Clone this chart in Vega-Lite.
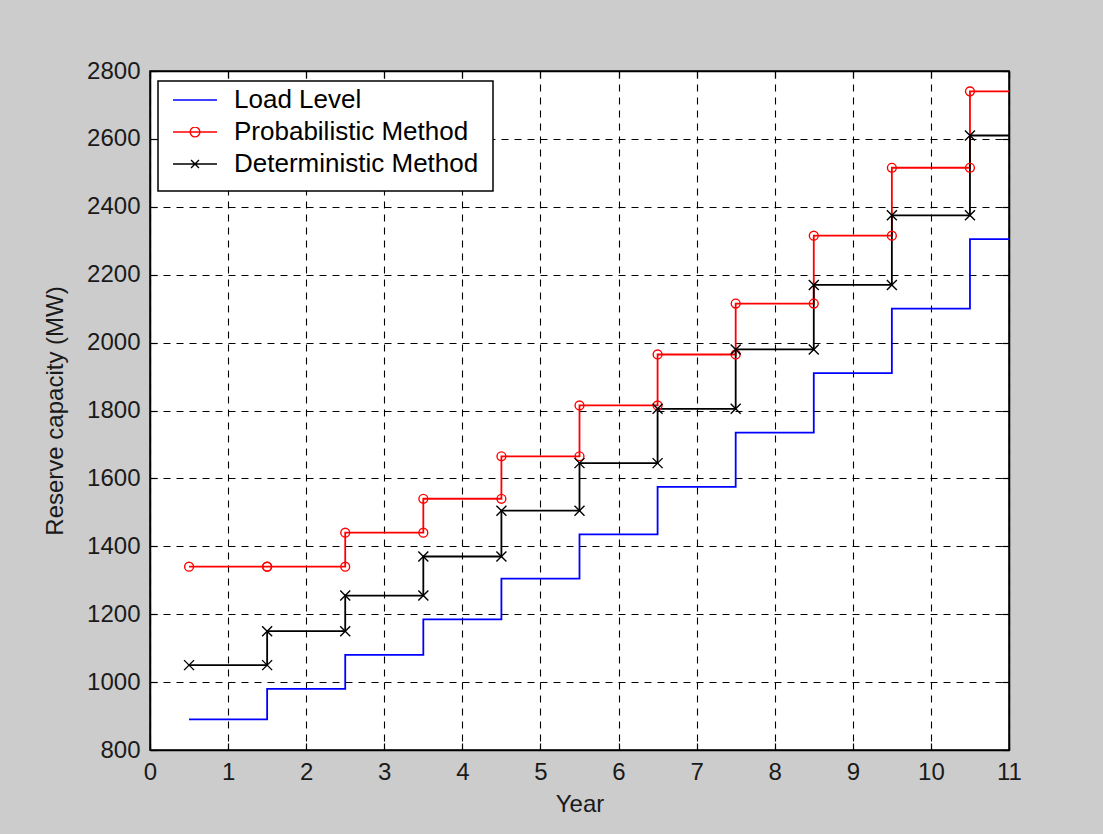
{
  "$schema": "https://vega.github.io/schema/vega-lite/v6.json",
  "width": 859,
  "height": 679,
  "autosize": {"type": "none"},
  "padding": {"left": 150, "top": 71, "right": 94, "bottom": 84},
  "background": "#cccccc",
  "data": {
    "values": [
      {"series": "Load Level", "year": 0.5, "value": 890},
      {"series": "Load Level", "year": 1.5, "value": 980},
      {"series": "Load Level", "year": 2.5, "value": 1080},
      {"series": "Load Level", "year": 3.5, "value": 1185},
      {"series": "Load Level", "year": 4.5, "value": 1305},
      {"series": "Load Level", "year": 5.5, "value": 1435},
      {"series": "Load Level", "year": 6.5, "value": 1575},
      {"series": "Load Level", "year": 7.5, "value": 1735},
      {"series": "Load Level", "year": 8.5, "value": 1910},
      {"series": "Load Level", "year": 9.5, "value": 2100},
      {"series": "Load Level", "year": 10.5, "value": 2305},
      {"series": "Load Level", "year": 11, "value": 2305},
      {"series": "Probabilistic Method", "year": 0.5, "value": 1340},
      {"series": "Probabilistic Method", "year": 1.5, "value": 1340},
      {"series": "Probabilistic Method", "year": 2.5, "value": 1440},
      {"series": "Probabilistic Method", "year": 3.5, "value": 1540},
      {"series": "Probabilistic Method", "year": 4.5, "value": 1665},
      {"series": "Probabilistic Method", "year": 5.5, "value": 1815},
      {"series": "Probabilistic Method", "year": 6.5, "value": 1965},
      {"series": "Probabilistic Method", "year": 7.5, "value": 2115},
      {"series": "Probabilistic Method", "year": 8.5, "value": 2315},
      {"series": "Probabilistic Method", "year": 9.5, "value": 2515},
      {"series": "Probabilistic Method", "year": 10.5, "value": 2740},
      {"series": "Probabilistic Method", "year": 11, "value": 2740},
      {"series": "Deterministic Method", "year": 0.5, "value": 1050},
      {"series": "Deterministic Method", "year": 1.5, "value": 1150},
      {"series": "Deterministic Method", "year": 2.5, "value": 1255},
      {"series": "Deterministic Method", "year": 3.5, "value": 1370},
      {"series": "Deterministic Method", "year": 4.5, "value": 1505},
      {"series": "Deterministic Method", "year": 5.5, "value": 1645},
      {"series": "Deterministic Method", "year": 6.5, "value": 1805},
      {"series": "Deterministic Method", "year": 7.5, "value": 1980},
      {"series": "Deterministic Method", "year": 8.5, "value": 2170},
      {"series": "Deterministic Method", "year": 9.5, "value": 2375},
      {"series": "Deterministic Method", "year": 10.5, "value": 2610},
      {"series": "Deterministic Method", "year": 11, "value": 2610}
    ]
  },
  "config": {
    "font": "Liberation Sans",
    "view": {"fill": "#ffffff", "stroke": "#000000", "strokeWidth": 1.5},
    "axis": {
      "domainColor": "#000000",
      "domainWidth": 1.5,
      "tickColor": "#000000",
      "tickWidth": 1.2,
      "tickSize": -7,
      "labelFont": "Liberation Sans",
      "labelFontSize": 24,
      "labelColor": "#1a1a1a",
      "labelFlush": false,
      "labelOverlap": false,
      "labelPadding": 17,
      "titleFont": "Liberation Sans",
      "titleFontSize": 24,
      "titleFontWeight": "normal",
      "titleColor": "#1a1a1a",
      "gridColor": "#000000",
      "gridDash": [7, 6],
      "gridWidth": 1.1,
      "gridOpacity": 1
    }
  },
  "resolve": {"axis": {"x": "independent", "y": "independent"}},
  "layer": [
    {
      "mark": {"type": "line", "interpolate": "step-after", "strokeWidth": 1.8},
      "encoding": {
        "x": {
          "field": "year", "type": "quantitative",
          "scale": {"domain": [0, 11], "nice": false, "zero": false},
          "axis": {"orient": "bottom", "title": "Year", "format": "d", "values": [0, 1, 2, 3, 4, 5, 6, 7, 8, 9, 10, 11], "grid": true, "titlePadding": 8}
        },
        "y": {
          "field": "value", "type": "quantitative",
          "scale": {"domain": [800, 2800], "nice": false, "zero": false},
          "axis": {"orient": "left", "title": "Reserve capacity (MW)", "format": "d", "values": [800, 1000, 1200, 1400, 1600, 1800, 2000, 2200, 2400, 2600, 2800], "grid": true, "titlePadding": 19}
        },
        "color": {
          "field": "series", "type": "nominal",
          "scale": {"domain": ["Load Level", "Probabilistic Method", "Deterministic Method"], "range": ["#0000ff", "#ff0000", "#000000"]},
          "legend": {
            "title": null,
            "orient": "none",
            "legendX": 8,
            "legendY": 10,
            "padding": 14,
            "fillColor": "#ffffff",
            "strokeColor": "#000000",
            "clipHeight": 10,
            "rowPadding": 6,
            "symbolSize": 1936,
            "symbolOffset": 0,
            "symbolStrokeWidth": 1.4,
            "symbolFillColor": "transparent",
            "labelOffset": 16,
            "labelFont": "Liberation Sans",
            "labelFontSize": 26,
            "labelColor": "#000000",
            "labelLimit": 400,
            "encode": {
              "legend": {"update": {"strokeWidth": {"value": 1.5}}},
              "symbols": {
                "update": {
                  "shape": {"signal": "datum.value === 'Load Level' ? 'M-1,0L1,0' : datum.value === 'Probabilistic Method' ? 'M-1,0L1,0M-0.22,0A0.22,0.22 0 1,0 0.22,0A0.22,0.22 0 1,0 -0.22,0' : 'M-1,0L1,0M-0.18,-0.18L0.18,0.18M-0.18,0.18L0.18,-0.18'"},
                  "fill": {"value": "transparent"},
                  "strokeWidth": {"value": 1.4}
                }
              }
            }
          }
        }
      }
    },
    {
      "transform": [
        {"filter": "datum.series === 'Probabilistic Method'"},
        {"window": [{"op": "lag", "field": "value", "as": "prev"}], "sort": [{"field": "year"}]},
        {"filter": "datum.year < 11"},
        {"fold": ["value", "prev"], "as": ["corner", "level"]},
        {"filter": "datum.level != null"}
      ],
      "mark": {"type": "point", "shape": "circle", "filled": false, "color": "#ff0000", "size": 78, "strokeWidth": 1.4, "opacity": 1},
      "encoding": {
        "x": {"field": "year", "type": "quantitative", "axis": {"orient": "top", "labels": false, "title": null, "grid": false, "values": [0, 1, 2, 3, 4, 5, 6, 7, 8, 9, 10, 11]}},
        "y": {"field": "level", "type": "quantitative", "axis": null}
      }
    },
    {
      "transform": [
        {"filter": "datum.series === 'Deterministic Method'"},
        {"window": [{"op": "lag", "field": "value", "as": "prev"}], "sort": [{"field": "year"}]},
        {"filter": "datum.year < 11"},
        {"fold": ["value", "prev"], "as": ["corner", "level"]},
        {"filter": "datum.level != null"}
      ],
      "mark": {"type": "point", "shape": "M-1,-1L1,1M-1,1L1,-1", "filled": false, "color": "#000000", "size": 100, "strokeWidth": 1.4, "opacity": 1},
      "encoding": {
        "x": {"field": "year", "type": "quantitative", "axis": null},
        "y": {"field": "level", "type": "quantitative", "axis": {"orient": "right", "labels": false, "title": null, "grid": false, "values": [800, 1000, 1200, 1400, 1600, 1800, 2000, 2200, 2400, 2600, 2800]}}
      }
    }
  ]
}
